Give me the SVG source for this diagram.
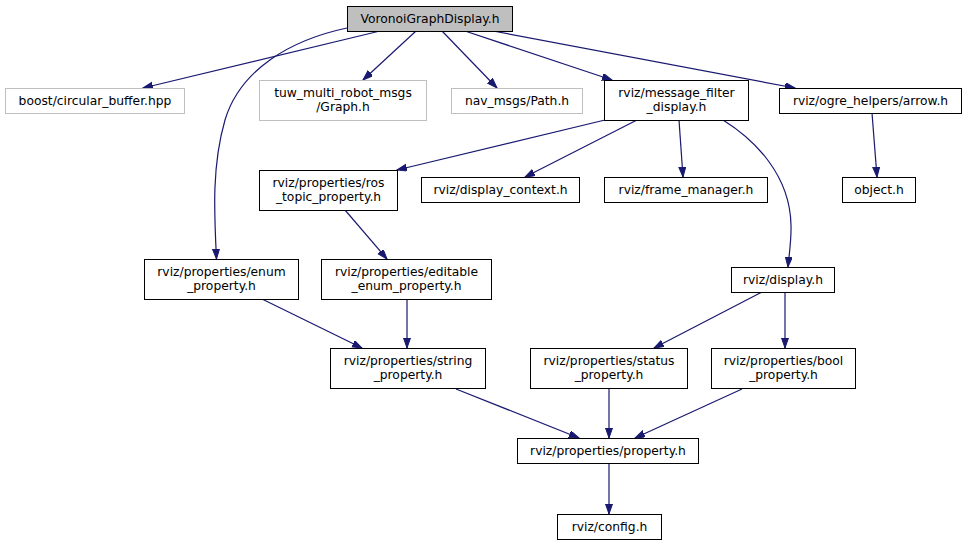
<svg xmlns="http://www.w3.org/2000/svg" width="967" height="544" viewBox="0 0 967 544">
<style>
.n rect{fill:#fff;stroke:#000;stroke-width:1}
.g rect{fill:#fff;stroke:#bfbfbf;stroke-width:1}
.root rect{fill:#bfbfbf;stroke:#000;stroke-width:1}
text{font-family:"DejaVu Sans",sans-serif;font-size:12.3px;fill:#000;text-anchor:middle}
#edges path{fill:none;stroke:#191970;stroke-width:1.2;marker-end:url(#ah)}
</style>
<defs>
<marker id="ah" markerUnits="userSpaceOnUse" markerWidth="11" markerHeight="8" refX="10" refY="3.5" orient="auto" viewBox="0 0 11 8">
<path d="M0,0 L10,3.5 L0,7 z" fill="#191970" stroke="#191970" stroke-width="1"/>
</marker>
</defs>
<rect width="967" height="544" fill="#fff"/>
<g id="edges">
<path d="M380,31 L143,88"/>
<path d="M416,31 L363,80"/>
<path d="M442,31 L497,88"/>
<path d="M465,31 L612,80"/>
<path d="M493,31 L795,88"/>
<path d="M347,28 C290,40 240,70 225,120 C212,165 214,210 216.5,259"/>
<path d="M605,120 L397,170"/>
<path d="M637,120 L525,177"/>
<path d="M679,120 L683,177"/>
<path d="M723,120 C755,140 790,175 791,225 C791.5,240 789,255 788,267"/>
<path d="M872,113 L877,177"/>
<path d="M345,210 L387,259"/>
<path d="M262,299 L362,348"/>
<path d="M407,299 L407,348"/>
<path d="M762,292 L654,348"/>
<path d="M785,292 L785,348"/>
<path d="M456,389 L579,438"/>
<path d="M609,389 L609,438"/>
<path d="M742,389 L635,438"/>
<path d="M609,463 L609,514"/>
</g>
<g id="node_voronoi" class="root"><rect x="347.5" y="6.5" width="165" height="25"/><text x="430" y="23">VoronoiGraphDisplay.h</text></g>
<g id="node_boost" class="g"><rect x="5.5" y="88.5" width="179" height="25"/><text x="95" y="105">boost/circular_buffer.hpp</text></g>
<g id="node_tuw" class="g"><rect x="259.5" y="80.5" width="167" height="40"/><text x="343" y="97">tuw_multi_robot_msgs</text><text x="343" y="111">/Graph.h</text></g>
<g id="node_nav" class="g"><rect x="451.5" y="88.5" width="131" height="25"/><text x="517" y="105">nav_msgs/Path.h</text></g>
<g id="node_mfd" class="n"><rect x="604.5" y="80.5" width="144" height="40"/><text x="676.5" y="97">rviz/message_filter</text><text x="676.5" y="111">_display.h</text></g>
<g id="node_arrow" class="n"><rect x="779.5" y="88.5" width="182" height="25"/><text x="870.5" y="105">rviz/ogre_helpers/arrow.h</text></g>
<g id="node_ros_topic" class="n"><rect x="259.5" y="170.5" width="138" height="40"/><text x="328.5" y="187">rviz/properties/ros</text><text x="328.5" y="201">_topic_property.h</text></g>
<g id="node_display_context" class="n"><rect x="421.5" y="177.5" width="158" height="25"/><text x="500.5" y="194">rviz/display_context.h</text></g>
<g id="node_frame_manager" class="n"><rect x="604.5" y="177.5" width="163" height="25"/><text x="686" y="194">rviz/frame_manager.h</text></g>
<g id="node_object" class="n"><rect x="842.5" y="177.5" width="73" height="25"/><text x="879" y="194">object.h</text></g>
<g id="node_enum" class="n"><rect x="144.5" y="259.5" width="154" height="40"/><text x="221.5" y="276">rviz/properties/enum</text><text x="221.5" y="290">_property.h</text></g>
<g id="node_editable" class="n"><rect x="321.5" y="259.5" width="170" height="40"/><text x="406.5" y="276">rviz/properties/editable</text><text x="406.5" y="290">_enum_property.h</text></g>
<g id="node_display" class="n"><rect x="731.5" y="267.5" width="103" height="25"/><text x="783" y="284">rviz/display.h</text></g>
<g id="node_string" class="n"><rect x="330.5" y="348.5" width="155" height="40"/><text x="408" y="365">rviz/properties/string</text><text x="408" y="379">_property.h</text></g>
<g id="node_status" class="n"><rect x="530.5" y="348.5" width="157" height="40"/><text x="609" y="365">rviz/properties/status</text><text x="609" y="379">_property.h</text></g>
<g id="node_bool" class="n"><rect x="711.5" y="348.5" width="144" height="40"/><text x="783.5" y="365">rviz/properties/bool</text><text x="783.5" y="379">_property.h</text></g>
<g id="node_property" class="n"><rect x="517.5" y="438.5" width="181" height="25"/><text x="608" y="455">rviz/properties/property.h</text></g>
<g id="node_config" class="n"><rect x="557.5" y="514.5" width="104" height="25"/><text x="609.5" y="531">rviz/config.h</text></g>
</svg>
